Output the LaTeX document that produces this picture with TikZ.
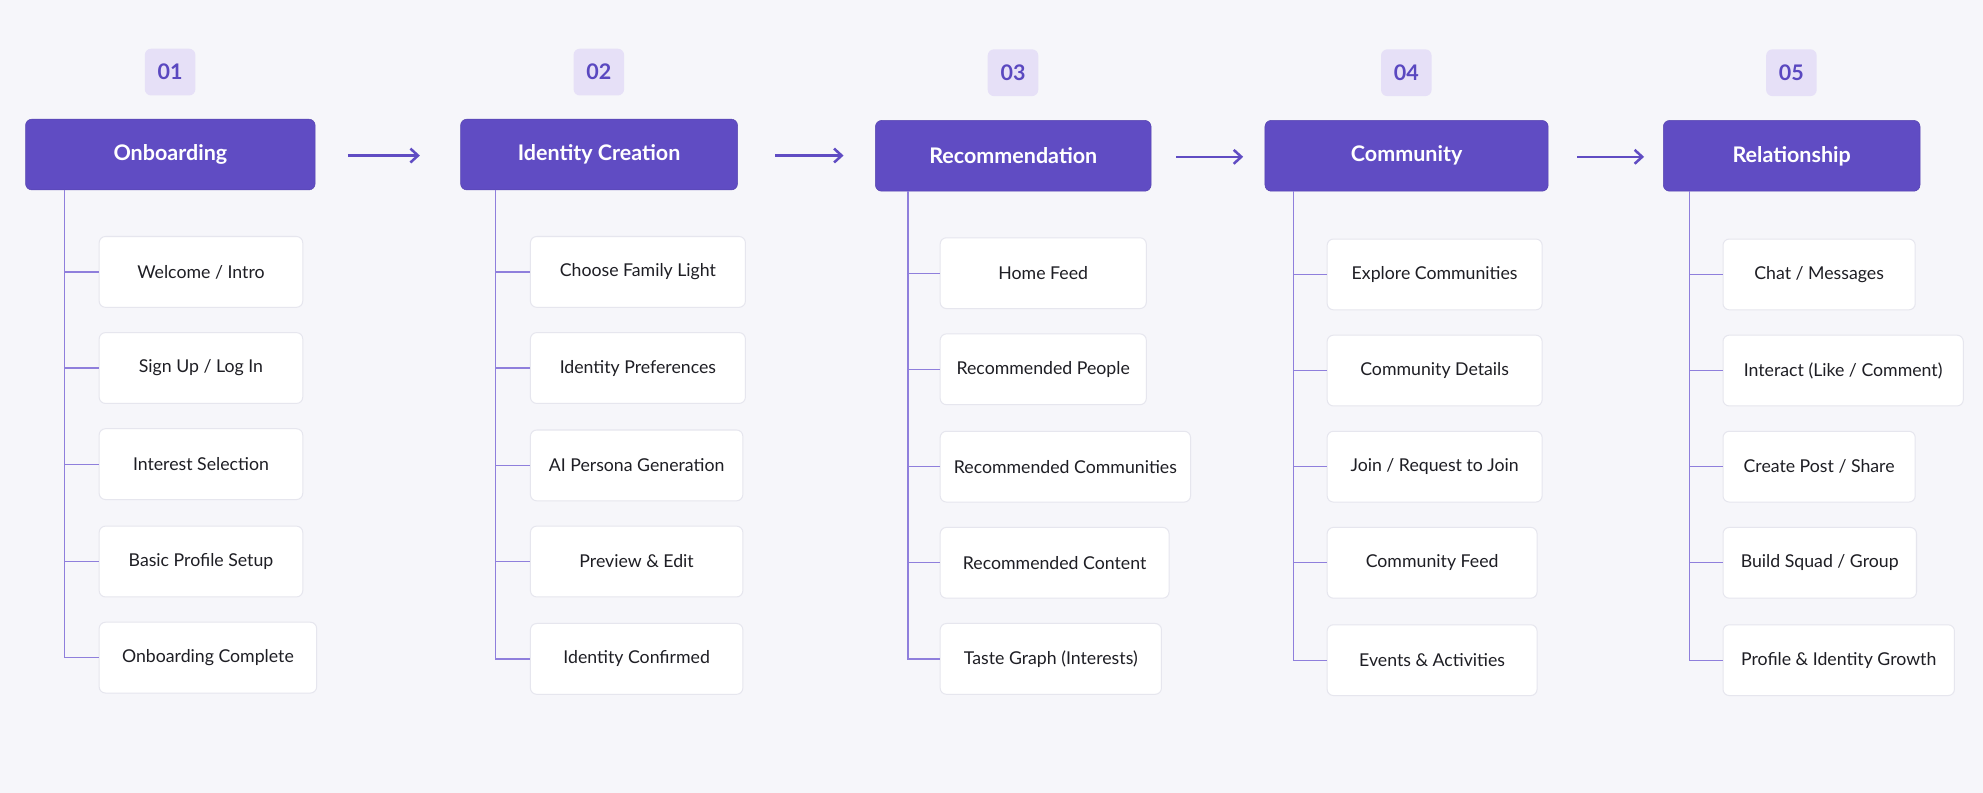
\documentclass[tikz,border=0pt]{standalone}
\usepackage{fontspec}
\setmainfont{Lato}
\usetikzlibrary{arrows.meta}
\definecolor{bg}{HTML}{F6F6FA}
\definecolor{hdr}{HTML}{604CC3}
\definecolor{badge}{HTML}{E6E0F7}
\definecolor{badgetxt}{HTML}{5A48C0}
\definecolor{ln}{HTML}{8F7FDC}
\definecolor{bx}{HTML}{E6E6EE}
\definecolor{txt}{HTML}{1E1E24}
\begin{document}
\begin{tikzpicture}[x=1pt,y=-1pt,
 header/.style={rectangle,rounded corners=5pt,fill=hdr,draw=hdr!90!black,line width=0.4pt,text=white,font=\fontsize{17}{20}\selectfont\bfseries,minimum height=56pt,anchor=north west,inner sep=0pt},
 badge/.style={rectangle,rounded corners=5pt,fill=badge,text=badgetxt,font=\fontsize{17}{20}\selectfont\bfseries,minimum width=40pt,minimum height=37pt,inner sep=0pt},
 item/.style={rectangle,rounded corners=5pt,fill=white,draw=bx,line width=0.8pt,text=txt,font=\fontsize{14}{17}\selectfont,minimum height=56pt,anchor=west,inner sep=0pt},
 tree/.style={draw=ln,line width=1pt},
 flow/.style={draw=hdr,line width=2pt,-{Straight Barb[length=6pt,width=11pt]}}]
\fill[bg] (0,0) rectangle (1568,627);
\useasboundingbox (0,0) rectangle (1568,627);
% column macro usage
\newcommand{\mycol}[7]{%
 % #1 id, #2 number, #3 header x, #4 header width, #5 header title, #6 line x, #7 y-offset
 \node[badge] (b#1) at (#3+#4/2,57+#7/2) {#2};
 \node[header,minimum width=#4pt] (h#1) at (#3,94+#7) {#5};
 \coordinate (t#1) at (#6,150+#7);
}
\mycol{1}{01}{20}{229}{Onboarding}{51}{0}
\mycol{2}{02}{364}{219}{Identity Creation}{392}{0}
\mycol{3}{03}{692}{218}{Recommendation}{718}{1}
\mycol{4}{04}{1000}{224}{Community}{1023}{1}
\mycol{5}{05}{1315}{203}{Relationship}{1336}{1}
% items
\newcommand{\myitem}[6]{% #1 col, #2 idx, #3 x, #4 y, #5 width, #6 text
 \node[item,minimum width=#5pt] (i#1#2) at (#3,#4) {#6};
}
\myitem{1}{1}{78}{215}{161}{Welcome / Intro}
\myitem{1}{2}{78}{291}{161}{Sign Up / Log In}
\myitem{1}{3}{78}{367}{161}{Interest Selection}
\myitem{1}{4}{78}{444}{161}{Basic Profile Setup}
\myitem{1}{5}{78}{520}{172}{Onboarding Complete}
\myitem{2}{1}{419}{215}{170}{Choose Family Light}
\myitem{2}{2}{419}{291}{170}{Identity Preferences}
\myitem{2}{3}{419}{368}{168}{AI Persona Generation}
\myitem{2}{4}{419}{444}{168}{Preview \& Edit}
\myitem{2}{5}{419}{521}{168}{Identity Confirmed}
\myitem{3}{1}{743}{216}{163}{Home Feed}
\myitem{3}{2}{743}{292}{163}{Recommended People}
\myitem{3}{3}{743}{369}{198}{Recommended Communities}
\myitem{3}{4}{743}{445}{181}{Recommended Content}
\myitem{3}{5}{743}{521}{175}{Taste Graph (Interests)}
\myitem{4}{1}{1049}{217}{170}{Explore Communities}
\myitem{4}{2}{1049}{293}{170}{Community Details}
\myitem{4}{3}{1049}{369}{170}{Join / Request to Join}
\myitem{4}{4}{1049}{445}{166}{Community Feed}
\myitem{4}{5}{1049}{522}{166}{Events \& Activities}
\myitem{5}{1}{1362}{217}{152}{Chat / Messages}
\myitem{5}{2}{1362}{293}{190}{Interact (Like / Comment)}
\myitem{5}{3}{1362}{369}{152}{Create Post / Share}
\myitem{5}{4}{1362}{445}{153}{Build Squad / Group}
\myitem{5}{5}{1362}{522}{183}{Profile \& Identity Growth}
\foreach \c in {1,...,5}{
 \draw[tree] (t\c) |- (i\c5.west);
 \foreach \k in {1,...,4}{ \draw[tree] (t\c |- i\c\k.west) -- (i\c\k.west); }
}
% flow arrows
\coordinate (a1s) at (275,123); \coordinate (a1e) at (332,123);
\coordinate (a2s) at (613,123); \coordinate (a2e) at (667,123);
\coordinate (a3s) at (930,124); \coordinate (a3e) at (983,124);
\coordinate (a4s) at (1247,124); \coordinate (a4e) at (1300,124);
\foreach \k in {1,...,4}{ \draw[flow] (a\k s) -- (a\k e); }
\end{tikzpicture}
\end{document}
